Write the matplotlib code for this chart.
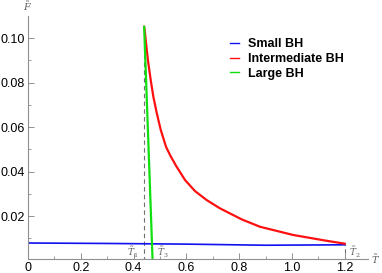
import matplotlib
matplotlib.use("Agg")
import matplotlib.pyplot as plt
from matplotlib.ticker import MultipleLocator

plt.rcParams.update({
    "font.family": ["Liberation Sans", "DejaVu Sans"],
    "mathtext.fontset": "dejavuserif",
})

# ── data ─────────────────────────────────────────────────────────────────
small_T = [0.0, 0.3, 0.6, 0.9, 1.2]
small_F = [0.0079, 0.0077, 0.0074, 0.0069, 0.0071]

inter_T = [0.440, 0.442, 0.450, 0.456, 0.465, 0.475, 0.488, 0.503, 0.523, 0.540,
           0.563, 0.595, 0.633, 0.677, 0.727, 0.810, 0.879, 1.005, 1.131, 1.200]
inter_F = [0.1051, 0.1036, 0.0946, 0.0886, 0.0811, 0.0736, 0.0662, 0.0587, 0.0511, 0.0470,
           0.0422, 0.0362, 0.0312, 0.0272, 0.0235, 0.0185, 0.0152, 0.0115, 0.0089, 0.0076]

large_T = [0.440, 0.456, 0.472]
large_F = [0.1051, 0.0530, 0.0000]

T1, T2, T3 = 0.440, 1.200, 0.468
F_T2 = 0.0076

fig = plt.figure(figsize=(3.82, 2.73), dpi=100)
ax = fig.add_axes([0.0733, 0.052, 0.890, 0.889])

ax.plot(small_T, small_F, color="#1010f0", lw=1.2, label="Small BH")
ax.plot(inter_T, inter_F, color="#ff1010", lw=1.6, label="Intermediate BH")
ax.plot(large_T, large_F, color="#10e010", lw=1.6, label="Large BH")

ax.plot([T1, T1], [0, 0.1051], color="#707070", lw=0.8, ls=(0, (4, 3)), zorder=1)
ax.plot([T2, T2], [0, F_T2], color="#707070", lw=0.8, ls=(0, (4, 3)), zorder=1)

ax.set_xlim(0, 1.288)
ax.set_ylim(0.0008, 0.1099)

for s in ["top", "right"]:
    ax.spines[s].set_visible(False)
for s in ["left", "bottom"]:
    ax.spines[s].set_color("#909090")
    ax.spines[s].set_linewidth(0.8)

ax.xaxis.set_minor_locator(MultipleLocator(0.1))
ax.yaxis.set_minor_locator(MultipleLocator(0.01))
ax.set_xticks([0, 0.2, 0.4, 0.6, 0.8, 1.0, 1.2])
ax.set_xticklabels(["0", "0.2", "0.4", "0.6", "0.8", "1.0", "1.2"])
ax.set_yticks([0.02, 0.04, 0.06, 0.08, 0.10])
ax.set_yticklabels(["0.02", "0.04", "0.06", "0.08", "0.10"])
ax.tick_params(which="major", direction="in", length=4, width=0.7, color="#909090",
               labelsize=9, pad=2)
ax.tick_params(which="minor", direction="in", length=2.5, width=0.6, color="#909090")

ax.text(0.0, 0.1142, r"$\tilde{F}$", color="#606060", fontsize=7, ha="center", va="center",
        clip_on=False)
ax.text(1.316, 0.0008, r"$\tilde{T}$", color="#606060", fontsize=7, ha="center", va="center",
        clip_on=False)
ax.text(0.396, 0.0036, r"$\tilde{T}_1$", color="#606060", fontsize=6.5, ha="center",
        va="center")
ax.text(0.512, 0.0036, r"$\tilde{T}_3$", color="#606060", fontsize=6.5, ha="center",
        va="center")
ax.text(1.239, 0.0036, r"$\tilde{T}_2$", color="#606060", fontsize=6.5, ha="center",
        va="center", clip_on=False)

leg = ax.legend(loc="upper left", bbox_to_anchor=(0.562, 0.955), frameon=False,
                handlelength=0.7, handletextpad=0.75, labelspacing=0.22,
                prop={"weight": "bold", "size": 9})
for h in leg.get_lines():
    h.set_linewidth(1.0)

fig.savefig("out.png", dpi=100)
